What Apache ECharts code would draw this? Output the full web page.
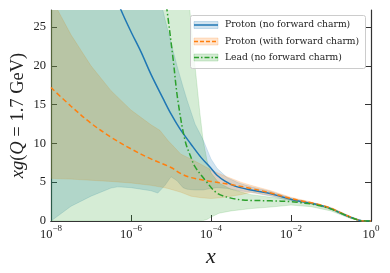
<!DOCTYPE html>
<html><head><meta charset="utf-8">
<script src="https://cdn.jsdelivr.net/npm/echarts@6/dist/echarts.min.js"></script>
<style>html,body{margin:0;padding:0;background:#fff}#c{width:390px;height:273px}</style>
</head><body><div id="c"></div>
<script>
// ---- data (x values given as log10(x) exponents) ----
const xTickExps = [-8, -6, -4, -2, 0];
const yTicks = [0, 5, 10, 15, 20, 25];

const protonLogX = [-6.5,-6.25,-6,-5.75,-5.5,-5.2,-5,-4.78,-4.5,-4.25,-4,-3.85,-3.65,-3.4,-3,-2.5,-2.25,-2,-1.75,-1.5,-1.25,-1,-0.75,-0.5,-0.3,-0.15,0];
const protonG    = [30.5,27.2,24.4,21.8,18.9,15.8,13.8,11.9,9.9,8.2,6.8,5.9,5.15,4.5,4.0,3.5,3.15,2.8,2.5,2.3,2.0,1.6,1.0,0.45,0.1,0.01,0];

const protonFcLogX = [-8,-7.5,-7,-6.5,-6,-5.5,-5,-4.75,-4.5,-4,-3.5,-3,-2.5,-2.25,-2,-1.75,-1.5,-1.25,-1,-0.75,-0.5,-0.3,-0.15,0];
const protonFcG    = [17.2,14.8,12.6,10.8,9.3,8.0,6.9,6.1,5.6,5.1,4.7,4.2,3.6,3.25,2.9,2.6,2.35,2.05,1.65,1.05,0.48,0.1,0.01,0];

const leadLogX = [-5.2,-5.1,-4.95,-4.83,-4.65,-4.5,-4.4,-4.15,-3.85,-3.5,-3.2,-3,-2.5,-2,-1.75,-1.5,-1.25,-1,-0.75,-0.5,-0.3,-0.15,0];
const leadG    = [31,27.2,21,15.6,10.4,8.2,7.0,5.3,3.6,2.95,2.7,2.65,2.6,2.5,2.35,2.2,1.95,1.55,1.0,0.45,0.1,0.01,0];

const protonBandLogX = [-8,-7.5,-7,-6.5,-6.33,-6,-5.5,-5.33,-5.15,-5.0,-4.85,-4.7,-4.6,-4.4,-4.2,-4,-3.85,-3.6,-3.3,-3,-2.5,-2,-1.5,-1,-0.5,-0.25,0];
const protonBandLo   = [0,1.9,3.2,4.25,4.4,4.3,3.9,3.6,4.6,5.7,5.2,4.3,4.1,4.0,4.0,4.2,4.3,4.2,3.9,3.7,3.2,2.6,2.2,1.5,0.35,0.03,0];
const protonBandHi   = [45,45,45,45,45,45,40,30,26,23,20,17.3,15.6,12.5,10.5,8.0,6.8,5.6,4.9,4.4,3.8,2.95,2.4,1.7,0.55,0.08,0];

const protonFcBandLogX = [-8,-7.5,-7,-6.5,-6,-5.5,-5.28,-5.08,-4.75,-4.5,-4.25,-4,-3.75,-3.5,-3.25,-3,-2.5,-2,-1.5,-1,-0.5,-0.25,0];
const protonFcBandHi   = [28.8,24,20,16.8,14.3,12.4,11.7,10.4,8.6,8.0,7.3,6.6,6.0,5.5,5.0,4.6,3.9,3.05,2.45,1.75,0.55,0.08,0];
const protonFcBandLo   = [5.5,5.4,5.25,5.1,4.9,4.6,4.4,4.2,3.7,3.2,3.0,2.9,3.0,3.2,3.4,3.7,3.3,2.7,2.25,1.5,0.38,0.03,0];

const leadBandLogX = [-8,-5,-4.6,-4.53,-4.4,-4.28,-4.2,-4.1,-4,-3.8,-3.5,-3,-2.5,-2,-1.5,-1,-0.5,-0.25,0];
const leadBandHi   = [45,45,35,27.2,20,14,10.5,7.8,6.2,4.9,4.1,3.4,3.05,2.75,2.3,1.6,0.5,0.06,0];
const leadBandLo   = [0,0,0,0,0,0,0.05,0.2,0.5,1.0,1.3,1.6,1.8,2.05,1.85,1.3,0.3,0.02,0];

const legendLabels = ['Proton (no forward charm)', 'Proton (with forward charm)', 'Lead (no forward charm)'];

// ---- build ----
const C = {blue:'#1f77b4', orange:'#ff7f0e', green:'#2ca02c'};
const fillA = {blue:'rgba(31,119,180,0.2)', orange:'rgba(255,127,14,0.2)', green:'rgba(44,160,44,0.2)'};
const FONT = 'Liberation Serif';
const LFONT = 'DejaVu Serif';
const pts = (lx, ys) => lx.map((e, i) => [Math.pow(10, e), ys[i]]);

function bandSeries(lx, lo, hi, col) {
  return {
    type: 'custom', clip: true, silent: true,
    data: [[1e-4, 1]],
    renderItem: function (params, api) {
      const up = lx.map((e, i) => api.coord([Math.pow(10, e), hi[i]]));
      const dn = lx.map((e, i) => api.coord([Math.pow(10, e), lo[i]])).reverse();
      const cs = params.coordSys;
      return {
        type: 'polygon',
        shape: {points: up.concat(dn), smooth: 0},
        style: {fill: col, stroke: col, lineWidth: 0.8},
        clipPath: {type: 'rect', shape: {x: cs.x, y: cs.y, width: cs.width, height: cs.height}}
      };
    }
  };
}
function lineSeries(lx, ys, col, type) {
  return {
    type: 'line', data: pts(lx, ys), showSymbol: false, smooth: 0.35, clip: true,
    lineStyle: {color: col, width: 1.5, type: type}, z: 5
  };
}

const chart = echarts.init(document.getElementById('c'), null, {renderer: 'canvas'});
const L = 51, T = 10, R = 371, B = 221;
const legX = 190, legY = 15;
const rowY = [25, 41.5, 57.5];
const legendGraphic = [{
  type: 'rect', shape: {x: legX + 0.5, y: legY + 0.5, width: 175, height: 53, r: 2},
  style: {fill: 'rgba(255,255,255,0.8)', stroke: '#cccccc', lineWidth: 1}, z: 10
}];
const legCols = ['blue', 'orange', 'green'];
const legDash = ['solid', [4, 2], [5, 2, 1.5, 2]];
legCols.forEach((k, i) => {
  legendGraphic.push({type: 'rect', shape: {x: legX + 4, y: rowY[i] - 3.5, width: 24, height: 7},
    style: {fill: fillA[k], stroke: fillA[k], lineWidth: 1}, z: 11});
  legendGraphic.push({type: 'line', shape: {x1: legX + 4, y1: rowY[i], x2: legX + 28, y2: rowY[i]},
    style: {stroke: C[k], lineWidth: 1.5, lineDash: legDash[i] === 'solid' ? null : legDash[i]}, z: 12});
  legendGraphic.push({type: 'text', x: legX + 35, y: rowY[i],
    style: {text: legendLabels[i], font: '9.2px "' + LFONT + '"', fill: '#222', verticalAlign: 'middle'}, z: 12});
});
// y-axis title
legendGraphic.push({
  type: 'text', x: 18, y: (T + B) / 2, rotation: Math.PI / 2,
  style: {
    text: '{i|xg}(' + '{i|Q}' + ' = 1.7 GeV)', align: 'center', verticalAlign: 'middle',
    font: '18.5px "' + FONT + '"', fill: '#222',
    rich: {i: {fontFamily: FONT, fontSize: 18.5, fontStyle: 'italic', fill: '#222'}}
  }, z: 12
});

chart.setOption({
  animation: false,
  backgroundColor: '#fff',
  grid: {left: L, top: T, right: 390 - R, bottom: 273 - B, containLabel: false},
  xAxis: [{
    type: 'log', logBase: 10, min: 1e-8, max: 1,
    axisLine: {lineStyle: {color: '#333', width: 1.2}},
    axisTick: {inside: true, length: 6, lineStyle: {color: '#333', width: 1}, customValues: xTickExps.map(e => Math.pow(10, e))},
    axisLabel: {
      customValues: xTickExps.map(e => Math.pow(10, e)), margin: 3,
      formatter: v => { const e = Math.round(Math.log10(v)); return '{b|10}{s|' + (e < 0 ? '\u2212' + (-e) : e) + '}'; },
      rich: {b: {fontFamily: FONT, fontSize: 12.5, color: '#222', verticalAlign: 'bottom', lineHeight: 17},
             s: {fontFamily: FONT, fontSize: 9, color: '#222', verticalAlign: 'top', lineHeight: 17}}
    },
    splitLine: {show: false}, minorTick: {show: false},
    name: 'x', nameLocation: 'middle', nameGap: 22,
    nameTextStyle: {fontFamily: FONT, fontStyle: 'italic', fontSize: 22, color: '#222'}
  }, {
    type: 'log', logBase: 10, min: 1e-8, max: 1, position: 'top',
    axisLine: {show: true, lineStyle: {color: '#333', width: 1.2}},
    axisTick: {show: false}, axisLabel: {show: false}, splitLine: {show: false}
  }],
  yAxis: [{
    type: 'value', min: 0, max: 27.2, interval: 5,
    axisLine: {show: true, lineStyle: {color: '#333', width: 1.2}},
    axisTick: {inside: true, length: 6, lineStyle: {color: '#333', width: 1}, customValues: yTicks},
    axisLabel: {customValues: yTicks, fontFamily: FONT, fontSize: 12.5, color: '#222', margin: 5},
    splitLine: {show: false}
  }, {
    type: 'value', min: 0, max: 27.2, interval: 5, position: 'right',
    axisLine: {show: true, lineStyle: {color: '#333', width: 1.2}},
    axisTick: {inside: true, length: 6, lineStyle: {color: '#333', width: 1}, customValues: yTicks},
    axisLabel: {show: false}, splitLine: {show: false}
  }],
  series: [
    bandSeries(protonBandLogX, protonBandLo, protonBandHi, fillA.blue),
    bandSeries(protonFcBandLogX, protonFcBandLo, protonFcBandHi, fillA.orange),
    bandSeries(leadBandLogX, leadBandLo, leadBandHi, fillA.green),
    lineSeries(protonLogX, protonG, C.blue, 'solid'),
    lineSeries(protonFcLogX, protonFcG, C.orange, [5, 3]),
    lineSeries(leadLogX, leadG, C.green, [6, 2.5, 1.5, 2.5])
  ],
  graphic: legendGraphic
});
</script></body></html>
